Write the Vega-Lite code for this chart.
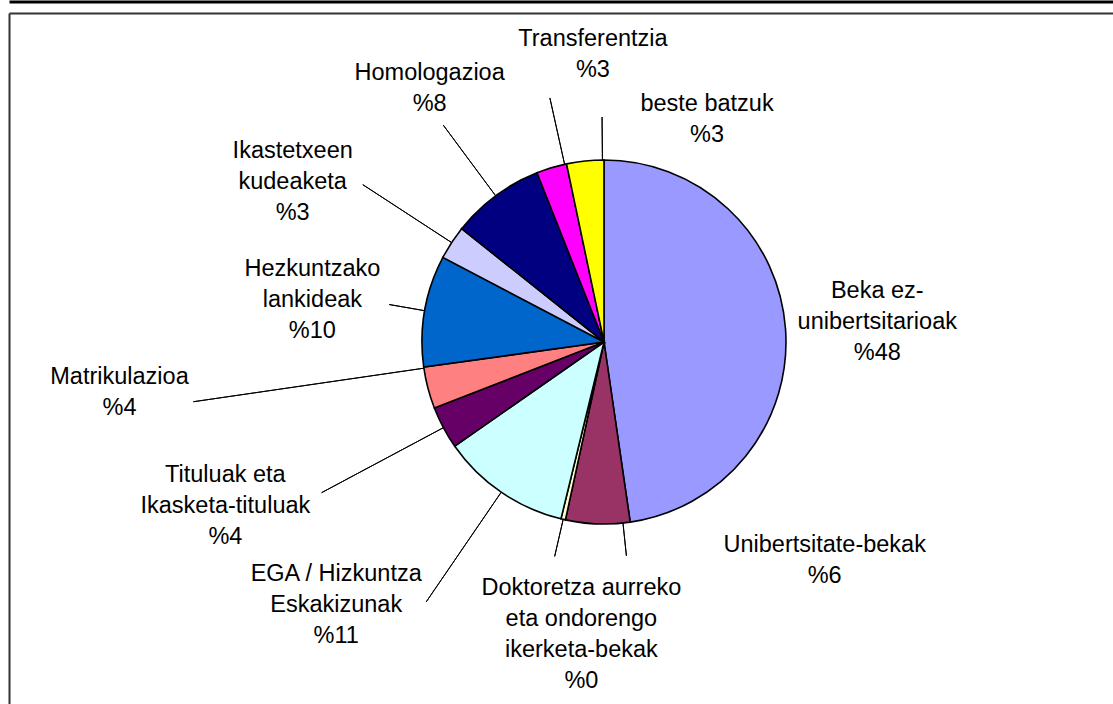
{
  "$schema": "https://vega.github.io/schema/vega-lite/v6.json",
  "width": 1104,
  "height": 691,
  "autosize": {"type": "none"},
  "padding": {"left": 9, "top": 13, "right": 0, "bottom": 0},
  "background": "white",
  "view": {"stroke": "transparent", "fill": "transparent"},
  "config": {"view": {"stroke": "transparent"}, "font": "Liberation Sans"},
  "data": {
    "values": [
      {"category": "Beka ez-unibertsitarioak", "label": "Beka ez-\nunibertsitarioak\n%48", "value": 47.7, "order": 1},
      {"category": "Unibertsitate-bekak", "label": "Unibertsitate-bekak\n%6", "value": 5.7, "order": 2},
      {"category": "Doktoretza aurreko eta ondorengo ikerketa-bekak", "label": "Doktoretza aurreko\neta ondorengo\nikerketa-bekak\n%0", "value": 0.4, "order": 3},
      {"category": "EGA / Hizkuntza Eskakizunak", "label": "EGA / Hizkuntza\nEskakizunak\n%11", "value": 11.5, "order": 4},
      {"category": "Tituluak eta Ikasketa-tituluak", "label": "Tituluak eta\nIkasketa-tituluak\n%4", "value": 3.8, "order": 5},
      {"category": "Matrikulazioa", "label": "Matrikulazioa\n%4", "value": 3.7, "order": 6},
      {"category": "Hezkuntzako lankideak", "label": "Hezkuntzako\nlankideak\n%10", "value": 9.9, "order": 7},
      {"category": "Ikastetxeen kudeaketa", "label": "Ikastetxeen\nkudeaketa\n%3", "value": 3.0, "order": 8},
      {"category": "Homologazioa", "label": "Homologazioa\n%8", "value": 8.3, "order": 9},
      {"category": "Transferentzia", "label": "Transferentzia\n%3", "value": 2.7, "order": 10},
      {"category": "beste batzuk", "label": "beste batzuk\n%3", "value": 3.3, "order": 11}
    ]
  },
  "resolve": {"scale": {"x": "independent"}, "axis": {"x": "independent"}},
  "layer": [
    {
      "mark": {"type": "point", "opacity": 0},
      "encoding": {
        "x": {"field": "value", "type": "quantitative", "axis": {"orient": "top", "domain": true, "domainColor": "#333333", "domainWidth": 2, "ticks": false, "labels": false, "grid": false, "title": null}},
        "y": {"field": "value", "type": "quantitative", "axis": {"orient": "left", "domain": true, "domainColor": "#333333", "domainWidth": 2, "ticks": false, "labels": false, "grid": false, "title": null}}
      }
    },
    {
      "mark": {"type": "point", "opacity": 0},
      "encoding": {
        "x": {"field": "order", "type": "quantitative", "axis": {"orient": "top", "offset": 11.5, "domain": true, "domainColor": "#000000", "domainWidth": 3, "ticks": false, "labels": false, "grid": false, "title": null}}
      }
    },
    {
      "encoding": {
        "theta": {"field": "value", "type": "quantitative", "stack": true},
        "order": {"field": "order", "type": "quantitative"}
      },
      "layer": [
        {
          "mark": {"type": "arc", "x": 595, "y": 329, "radius": 182, "stroke": "#000000", "strokeWidth": 1.6},
          "encoding": {
            "color": {
              "field": "category", "type": "nominal", "legend": null,
              "scale": {
                "domain": ["Beka ez-unibertsitarioak", "Unibertsitate-bekak", "Doktoretza aurreko eta ondorengo ikerketa-bekak", "EGA / Hizkuntza Eskakizunak", "Tituluak eta Ikasketa-tituluak", "Matrikulazioa", "Hezkuntzako lankideak", "Ikastetxeen kudeaketa", "Homologazioa", "Transferentzia", "beste batzuk"],
                "range": ["#9999FF", "#993366", "#FFFFCC", "#CCFFFF", "#660066", "#FF8080", "#0066CC", "#CCCCFF", "#000080", "#FF00FF", "#FFFF00"]
              }
            }
          }
        },
        {
          "mark": {"type": "arc", "x": 595, "y": 329, "radius": 215, "radius2": 182, "padAngle": 3, "thetaOffset": -0.139, "theta2Offset": -0.139, "filled": false, "stroke": "#000000", "strokeWidth": 1},
          "encoding": {"strokeOpacity": {"condition": {"test": "datum.category == 'Unibertsitate-bekak'", "value": 1}, "value": 0}}
        },
        {
          "mark": {"type": "arc", "x": 595, "y": 329, "radius": 220, "radius2": 182, "padAngle": 3, "filled": false, "stroke": "#000000", "strokeWidth": 1},
          "encoding": {"strokeOpacity": {"condition": {"test": "datum.category == 'Doktoretza aurreko eta ondorengo ikerketa-bekak'", "value": 1}, "value": 0}}
        },
        {
          "mark": {"type": "arc", "x": 595, "y": 329, "radius": 315, "radius2": 182, "padAngle": 3, "filled": false, "stroke": "#000000", "strokeWidth": 1},
          "encoding": {"strokeOpacity": {"condition": {"test": "datum.category == 'EGA / Hizkuntza Eskakizunak'", "value": 1}, "value": 0}}
        },
        {
          "mark": {"type": "arc", "x": 595, "y": 329, "radius": 320, "radius2": 182, "padAngle": 3, "filled": false, "stroke": "#000000", "strokeWidth": 1},
          "encoding": {"strokeOpacity": {"condition": {"test": "datum.category == 'Tituluak eta Ikasketa-tituluak'", "value": 1}, "value": 0}}
        },
        {
          "mark": {"type": "arc", "x": 595, "y": 329, "radius": 415, "radius2": 182, "padAngle": 3, "thetaOffset": 0.11, "theta2Offset": 0.11, "filled": false, "stroke": "#000000", "strokeWidth": 1},
          "encoding": {"strokeOpacity": {"condition": {"test": "datum.category == 'Matrikulazioa'", "value": 1}, "value": 0}}
        },
        {
          "mark": {"type": "arc", "x": 595, "y": 329, "radius": 218, "radius2": 182, "padAngle": 3, "filled": false, "stroke": "#000000", "strokeWidth": 1},
          "encoding": {"strokeOpacity": {"condition": {"test": "datum.category == 'Hezkuntzako lankideak'", "value": 1}, "value": 0}}
        },
        {
          "mark": {"type": "arc", "x": 595, "y": 329, "radius": 288, "radius2": 182, "padAngle": 3, "filled": false, "stroke": "#000000", "strokeWidth": 1},
          "encoding": {"strokeOpacity": {"condition": {"test": "datum.category == 'Ikastetxeen kudeaketa'", "value": 1}, "value": 0}}
        },
        {
          "mark": {"type": "arc", "x": 595, "y": 329, "radius": 270, "radius2": 182, "padAngle": 3, "filled": false, "stroke": "#000000", "strokeWidth": 1},
          "encoding": {"strokeOpacity": {"condition": {"test": "datum.category == 'Homologazioa'", "value": 1}, "value": 0}}
        },
        {
          "mark": {"type": "arc", "x": 595, "y": 329, "radius": 250, "radius2": 182, "padAngle": 3, "thetaOffset": 0.074, "theta2Offset": 0.074, "filled": false, "stroke": "#000000", "strokeWidth": 1},
          "encoding": {"strokeOpacity": {"condition": {"test": "datum.category == 'Transferentzia'", "value": 1}, "value": 0}}
        },
        {
          "mark": {"type": "arc", "x": 595, "y": 329, "radius": 225, "radius2": 182, "padAngle": 3, "thetaOffset": 0.095, "theta2Offset": 0.095, "filled": false, "stroke": "#000000", "strokeWidth": 1},
          "encoding": {"strokeOpacity": {"condition": {"test": "datum.category == 'beste batzuk'", "value": 1}, "value": 0}}
        },
        {
          "mark": {"type": "text", "x": 595, "y": 329, "radius": 274, "dx": 0, "dy": -31, "fontSize": 23.5, "lineHeight": 31, "lineBreak": "\n", "align": "center", "baseline": "middle", "color": "#000000"},
          "encoding": {"text": {"field": "label"}, "opacity": {"condition": {"test": "datum.category == 'Beka ez-unibertsitarioak'", "value": 1}, "value": 0}}
        },
        {
          "mark": {"type": "text", "x": 595, "y": 329, "radius": 211, "dx": 228, "dy": -7.5, "fontSize": 23.5, "lineHeight": 31, "lineBreak": "\n", "align": "center", "baseline": "middle", "color": "#000000"},
          "encoding": {"text": {"field": "label"}, "opacity": {"condition": {"test": "datum.category == 'Unibertsitate-bekak'", "value": 1}, "value": 0}}
        },
        {
          "mark": {"type": "text", "x": 595, "y": 329, "radius": 288, "dx": 42, "dy": -35, "fontSize": 23.5, "lineHeight": 31, "lineBreak": "\n", "align": "center", "baseline": "middle", "color": "#000000"},
          "encoding": {"text": {"field": "label"}, "opacity": {"condition": {"test": "datum.category == 'Doktoretza aurreko eta ondorengo ikerketa-bekak'", "value": 1}, "value": 0}}
        },
        {
          "mark": {"type": "text", "x": 595, "y": 329, "radius": 368, "dx": -60, "dy": -72, "fontSize": 23.5, "lineHeight": 31, "lineBreak": "\n", "align": "center", "baseline": "middle", "color": "#000000"},
          "encoding": {"text": {"field": "label"}, "opacity": {"condition": {"test": "datum.category == 'EGA / Hizkuntza Eskakizunak'", "value": 1}, "value": 0}}
        },
        {
          "mark": {"type": "text", "x": 595, "y": 329, "radius": 411, "dx": -16, "dy": -60, "fontSize": 23.5, "lineHeight": 31, "lineBreak": "\n", "align": "center", "baseline": "middle", "color": "#000000"},
          "encoding": {"text": {"field": "label"}, "opacity": {"condition": {"test": "datum.category == 'Tituluak eta Ikasketa-tituluak'", "value": 1}, "value": 0}}
        },
        {
          "mark": {"type": "text", "x": 595, "y": 329, "radius": 481, "dx": -19, "dy": -86.5, "fontSize": 23.5, "lineHeight": 31, "lineBreak": "\n", "align": "center", "baseline": "middle", "color": "#000000"},
          "encoding": {"text": {"field": "label"}, "opacity": {"condition": {"test": "datum.category == 'Matrikulazioa'", "value": 1}, "value": 0}}
        },
        {
          "mark": {"type": "text", "x": 595, "y": 329, "radius": 294, "dx": -2, "dy": -22, "fontSize": 23.5, "lineHeight": 31, "lineBreak": "\n", "align": "center", "baseline": "middle", "color": "#000000"},
          "encoding": {"text": {"field": "label"}, "opacity": {"condition": {"test": "datum.category == 'Hezkuntzako lankideak'", "value": 1}, "value": 0}}
        },
        {
          "mark": {"type": "text", "x": 595, "y": 329, "radius": 349, "dx": -19, "dy": 0, "fontSize": 23.5, "lineHeight": 31, "lineBreak": "\n", "align": "center", "baseline": "middle", "color": "#000000"},
          "encoding": {"text": {"field": "label"}, "opacity": {"condition": {"test": "datum.category == 'Ikastetxeen kudeaketa'", "value": 1}, "value": 0}}
        },
        {
          "mark": {"type": "text", "x": 595, "y": 329, "radius": 308, "dx": 9, "dy": -21.5, "fontSize": 23.5, "lineHeight": 31, "lineBreak": "\n", "align": "center", "baseline": "middle", "color": "#000000"},
          "encoding": {"text": {"field": "label"}, "opacity": {"condition": {"test": "datum.category == 'Homologazioa'", "value": 1}, "value": 0}}
        },
        {
          "mark": {"type": "text", "x": 595, "y": 329, "radius": 278, "dx": 69, "dy": -36.5, "fontSize": 23.5, "lineHeight": 31, "lineBreak": "\n", "align": "center", "baseline": "middle", "color": "#000000"},
          "encoding": {"text": {"field": "label"}, "opacity": {"condition": {"test": "datum.category == 'Transferentzia'", "value": 1}, "value": 0}}
        },
        {
          "mark": {"type": "text", "x": 595, "y": 329, "radius": 212, "dx": 125, "dy": -27.5, "fontSize": 23.5, "lineHeight": 31, "lineBreak": "\n", "align": "center", "baseline": "middle", "color": "#000000"},
          "encoding": {"text": {"field": "label"}, "opacity": {"condition": {"test": "datum.category == 'beste batzuk'", "value": 1}, "value": 0}}
        }
      ]
    }
  ]
}
